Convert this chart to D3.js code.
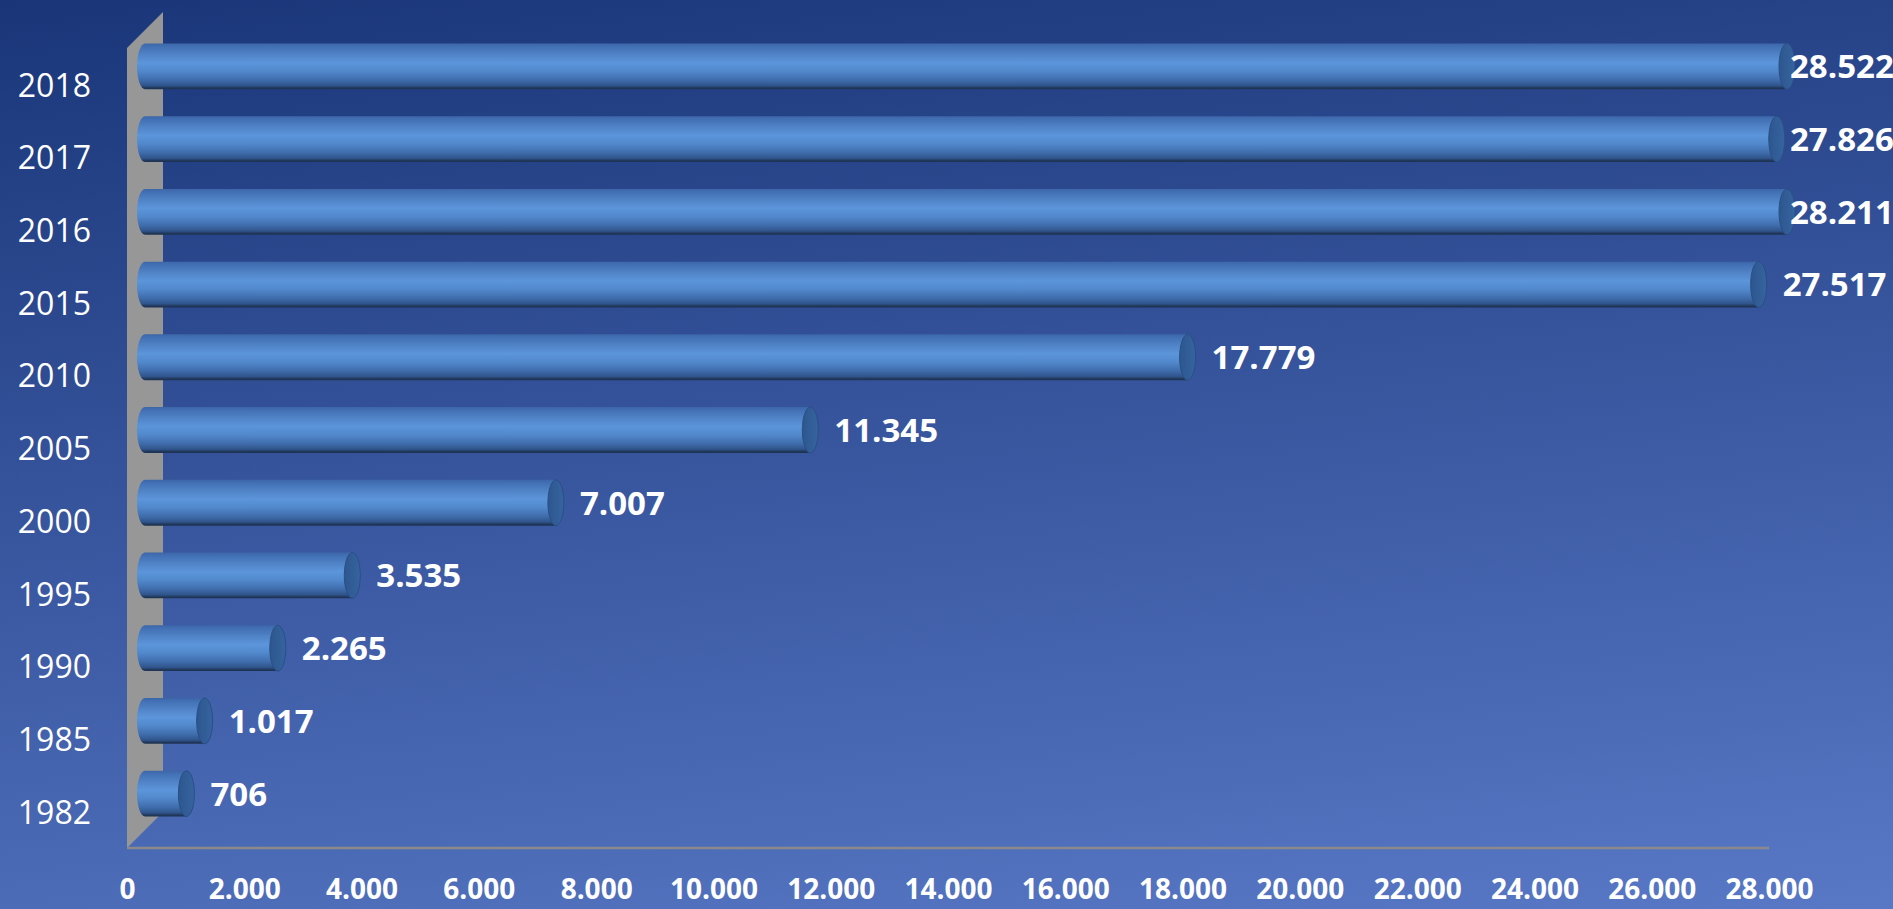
<!DOCTYPE html>
<html>
<head>
<meta charset="utf-8">
<script src="https://cdn.jsdelivr.net/npm/d3@7"></script>
<style>
  html, body { margin: 0; padding: 0; background: #1c387a; overflow: hidden; }
  svg { display: block; }
</style>
</head>
<body>
<div id="chart"></div>
<script>
const years = ['1982', '1985', '1990', '1995', '2000', '2005', '2010', '2015', '2016', '2017', '2018']
const values = [706, 1017, 2265, 3535, 7007, 11345, 17779, 27517, 28211, 27826, 28522]
const tickValues = [0, 2000, 4000, 6000, 8000, 10000, 12000, 14000, 16000, 18000, 20000, 22000, 24000, 26000, 28000]

const width = 1893
const height = 909
const depth = 36 // 3d depth offset of the back wall
const plotLeft = 127
const plotTop = 48
const plotBottom = 848

const fmt = d3.formatLocale({ decimal: ',', thousands: '.', grouping: [3], currency: ['', ''] }).format(',d')

const data = years.map((y, i) => ({ year: y, value: values[i] }))

const svg = d3.select('#chart')
  .append('svg')
  .attr('width', width)
  .attr('height', height)
  .attr('viewBox', `0 0 ${width} ${height}`)

const defs = svg.append('defs')

// background gradient, dark navy top-left to lighter blue bottom-right
const bg = defs.append('linearGradient')
  .attr('id', 'bg')
  .attr('gradientUnits', 'userSpaceOnUse')
  .attr('x1', 0).attr('y1', 0)
  .attr('x2', 128).attr('y2', 1122)
bg.append('stop').attr('offset', 0).attr('stop-color', '#1a3679')
bg.append('stop').attr('offset', 1).attr('stop-color', '#5979c7')

// cylinder shading
const cyl = defs.append('linearGradient')
  .attr('id', 'cyl')
  .attr('x1', 0).attr('y1', 0)
  .attr('x2', 0).attr('y2', 1)
;[
  [0, '#3c66a8'],
  [0.06, '#426fb3'],
  [0.25, '#5184c8'],
  [0.42, '#5c95da'],
  [0.6, '#5289cd'],
  [0.8, '#3f6cab'],
  [0.92, '#30548b'],
  [0.97, '#203759'],
  [1, '#1d3252'],
].forEach(([o, c]) => cyl.append('stop').attr('offset', o).attr('stop-color', c))

const capGrad = defs.append('linearGradient')
  .attr('id', 'cap')
  .attr('x1', 0).attr('y1', 0)
  .attr('x2', 1).attr('y2', 0)
capGrad.append('stop').attr('offset', 0).attr('stop-color', '#2d568e')
capGrad.append('stop').attr('offset', 1).attr('stop-color', '#36649f')

svg.append('rect')
  .attr('width', width)
  .attr('height', height)
  .attr('fill', 'url(#bg)')

const x = d3.scaleLinear()
  .domain([0, 28000])
  .range([plotLeft, 1769])
  .clamp(true)

const y = d3.scaleBand()
  .domain(years.slice().reverse())
  .range([plotTop, plotBottom])
  .paddingInner(0)

const barH = y.step() * 0.63
const rx = 8

// side wall
svg.append('path')
  .attr('d', `M${plotLeft},${plotTop} L${plotLeft + depth},${plotTop - depth} L${plotLeft + depth},${plotBottom - depth} L${plotLeft},${plotBottom} Z`)
  .attr('fill', '#979797')

// floor front edge
svg.append('line')
  .attr('x1', plotLeft)
  .attr('x2', x(28000))
  .attr('y1', plotBottom)
  .attr('y2', plotBottom)
  .attr('stroke', '#8a8a8a')
  .attr('stroke-width', 2.5)

// bars (cylinders) sit at half depth
const bars = svg.append('g')
  .attr('class', 'bars')
  .attr('transform', `translate(${depth / 2},${-depth / 2})`)

const bar = bars.selectAll('.bar')
  .data(data)
  .join('g')
  .attr('class', 'bar')

bar.append('path')
  .attr('d', (d) => {
    const x0 = x(0)
    const x1 = x(d.value)
    const yt = y(d.year) + (y.step() - barH) / 2
    const yb = yt + barH
    return `M${x0},${yt} L${x1},${yt} L${x1},${yb} L${x0},${yb} A${rx},${barH / 2} 0 0 1 ${x0},${yt} Z`
  })
  .attr('fill', 'url(#cyl)')

bar.append('ellipse')
  .attr('cx', (d) => x(d.value))
  .attr('cy', (d) => y(d.year) + y.step() / 2)
  .attr('rx', rx)
  .attr('ry', barH / 2)
  .attr('fill', 'url(#cap)')
  .attr('stroke', '#2a4f86')
  .attr('stroke-width', 1)

// value labels, kept inside the chart area like the original
const labelMax = x(28000) + 3
bar.append('text')
  .attr('x', (d) => Math.min(x(d.value) + 24, labelMax))
  .attr('y', (d) => y(d.year) + y.step() / 2)
  .attr('dy', '0.36em')
  .attr('fill', '#ffffff')
  .attr('font-family', '"Open Sans", sans-serif')
  .attr('font-weight', 700)
  .attr('font-size', 33)
  .text((d) => fmt(d.value))

// category axis (front plane)
const yAxis = svg.append('g')
  .attr('transform', 'translate(91,0)')
  .call(d3.axisLeft(y).tickSize(0).tickPadding(0))
yAxis.select('.domain').remove()
yAxis.selectAll('text')
  .attr('fill', '#ffffff')
  .attr('font-family', '"Open Sans", sans-serif')
  .attr('font-size', 32)
  .attr('dy', '0.38em')

// value axis
const xAxis = svg.append('g')
  .attr('transform', `translate(0,${plotBottom})`)
  .call(d3.axisBottom(x).tickValues(tickValues).tickFormat(fmt).tickSize(0).tickPadding(31))
xAxis.select('.domain').remove()
xAxis.selectAll('text')
  .attr('fill', '#ffffff')
  .attr('font-family', '"Open Sans", sans-serif')
  .attr('font-weight', 700)
  .attr('font-size', 28)
</script>
</body>
</html>
